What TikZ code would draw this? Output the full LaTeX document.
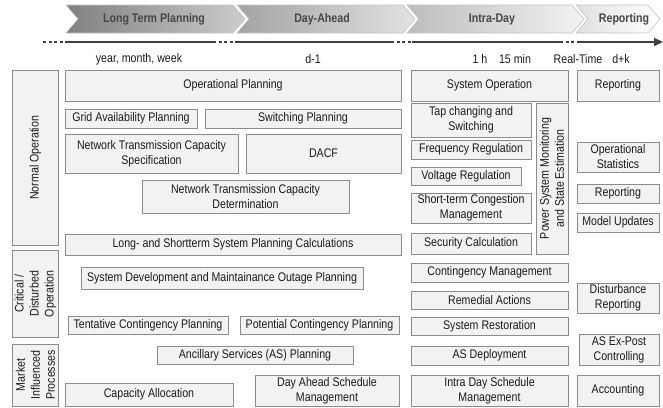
\documentclass[tikz,border=0pt]{standalone}
\usepackage{fontspec}
\setmainfont{Liberation Sans}[FakeStretch=0.85]
\usetikzlibrary{arrows.meta}
\definecolor{boxfill}{HTML}{F2F2F2}
\definecolor{boxline}{HTML}{8C8C8C}
\definecolor{txt}{HTML}{1A1A1A}
\definecolor{chevtxt}{HTML}{474747}
\definecolor{timeline}{HTML}{3F3F3F}
\definecolor{chevline}{HTML}{C4C4C4}
\definecolor{chAa}{HTML}{808080}\definecolor{chAb}{HTML}{CCCCCC}
\definecolor{chBa}{HTML}{A3A3A3}\definecolor{chBb}{HTML}{E2E2E2}
\definecolor{chCa}{HTML}{BDBDBD}\definecolor{chCb}{HTML}{F2F2F2}
\definecolor{chDa}{HTML}{E0E0E0}\definecolor{chDb}{HTML}{FFFFFF}
\newcommand\pbox[6]{\node[bx, minimum width={(#4)-(#2)}, minimum height={(#5)-(#3)}] (#1) at ({((#2)+(#4))/2},{((#3)+(#5))/2}) {#6};}
\newcommand\rbox[6]{\node[bx, rotate=90, minimum width={(#5)-(#3)}, minimum height={(#4)-(#2)}] (#1) at ({((#2)+(#4))/2},{((#3)+(#5))/2}) {#6};}
\begin{document}
\begin{tikzpicture}[x=1pt, y=-1pt,
  bx/.style={draw=boxline, fill=boxfill, line width=0.7pt, text=txt, align=center, inner sep=1pt, font=\fontsize{12.5}{15}\selectfont},
  chev/.style={draw=chevline, line width=0.6pt},
  chevlbl/.style={text=chevtxt, inner sep=0pt, font=\fontsize{12.5}{15}\selectfont\bfseries},
  tlbl/.style={text=txt, inner sep=0pt, font=\fontsize{12.5}{15}\selectfont},
  tl/.style={draw=timeline, line width=1.7pt},
  tldot/.style={draw=timeline, line width=1.7pt, dash pattern=on 3pt off 2.5pt}]
\useasboundingbox (0,0) rectangle (663,407);
% chevrons
\draw[chev, left color=chAa, right color=chAb] (66,5) -- (233,5) -- (245,19) -- (233,33) -- (66,33) -- (78,19) -- cycle;
\draw[chev, left color=chBa, right color=chBb] (237,5) -- (403,5) -- (415,19) -- (403,33) -- (237,33) -- (249,19) -- cycle;
\draw[chev, left color=chCa, right color=chCb] (407,5) -- (572,5) -- (584,19) -- (572,33) -- (407,33) -- (419,19) -- cycle;
\draw[chev, left color=chDa, right color=chDb] (576,5) -- (648,5) -- (660,19) -- (648,33) -- (576,33) -- (588,19) -- cycle;
\node[chevlbl] (cA) at (154,19) {Long Term Planning};
\node[chevlbl] (cB) at (322,19) {Day-Ahead};
\node[chevlbl] (cC) at (492,19) {Intra-Day};
\node[chevlbl] (cD) at (624,19) {Reporting};
% timeline
\coordinate (a0) at (43,42); \coordinate (a1) at (67,42);
\coordinate (a2) at (213,42); \coordinate (a3) at (237,42);
\coordinate (a4) at (391,42); \coordinate (a5) at (412,42);
\coordinate (a6) at (560,42); \coordinate (a7) at (577,42);
\coordinate (a8) at (663,42);
\draw[tldot] (a0) -- (a1);
\draw[tl] (a1) -- (a2);
\draw[tldot] (a2) -- (a3);
\draw[tl] (a3) -- (a4);
\draw[tldot] (a4) -- (a5);
\draw[tl] (a5) -- (a6);
\draw[tldot] (a6) -- (a7);
\draw[tl, -{Triangle[length=9pt,width=8pt]}] (a7) -- (a8);
% time labels
\node[tlbl] (t1) at (139,59) {year, month, week};
\node[tlbl] (t2) at (313,59) {d-1};
\node[tlbl] (t3) at (480,59) {1 h};
\node[tlbl] (t4) at (515,59) {15 min};
\node[tlbl] (t5) at (578,59) {Real-Time};
\node[tlbl] (t6) at (621,59) {d+k};
% left labels
\rbox{normal}{12.5}{70}{58.5}{245.5}{Normal Operation}
\rbox{critical}{12.5}{250.5}{58.5}{337}{\fontsize{12.5}{14}\selectfont Critical /\\Disturbed\\Operation}
\rbox{market}{12.5}{344}{58.5}{406}{\fontsize{12.5}{14}\selectfont Market\\Influenced\\Processes}
% planning column
\pbox{opplan}{65}{70}{401}{101}{Operational Planning}
\pbox{grid}{65}{109}{197}{128}{Grid Availability Planning}
\pbox{switch}{205}{109}{401}{128}{Switching Planning}
\pbox{ntcs}{65}{134}{238}{173}{Network Transmission Capacity\\Specification}
\pbox{dacf}{246}{134}{401}{173}{DACF}
\pbox{ntcd}{142}{180}{349}{213}{Network Transmission Capacity\\Determination}
\pbox{longshort}{65}{234}{401}{255}{Long- and Shortterm System Planning Calculations}
\pbox{sysdev}{81}{267}{363}{289}{System Development and Maintainance Outage Planning}
\pbox{tentative}{68}{316}{228}{334}{Tentative Contingency Planning}
\pbox{potential}{240}{316}{399}{334}{Potential Contingency Planning}
\pbox{ancillary}{157}{346}{353}{364}{Ancillary Services (AS) Planning}
\pbox{capacity}{65}{383}{233}{406}{Capacity Allocation}
\pbox{dayahead}{255}{375}{399}{406}{Day Ahead Schedule\\Management}
% operation column
\pbox{sysop}{411}{70}{568}{101}{System Operation}
\pbox{tap}{411}{103}{531}{137}{Tap changing and\\Switching}
\rbox{power}{536}{103}{568}{254}{Power System Monitoring\\and State Estimation}
\pbox{freq}{411}{140}{531}{159}{Frequency Regulation}
\pbox{volt}{411}{167}{521}{185}{Voltage Regulation}
\pbox{short}{411}{193}{531}{223}{Short-term Congestion\\Management}
\pbox{security}{411}{233}{531}{254}{Security Calculation}
\pbox{contingency}{411}{263}{568}{282}{Contingency Management}
\pbox{remedial}{411}{291}{568}{309}{Remedial Actions}
\pbox{restoration}{411}{317}{568}{335}{System Restoration}
\pbox{asdeploy}{411}{346}{568}{365}{AS Deployment}
\pbox{intraday}{411}{375}{568}{406}{Intra Day Schedule\\Management}
% reporting column
\pbox{rep1}{577}{70}{659}{101}{Reporting}
\pbox{opstat}{577}{142}{659}{172}{Operational\\Statistics}
\pbox{rep2}{577}{184}{659}{203}{Reporting}
\pbox{model}{577}{213}{659}{232}{Model Updates}
\pbox{disturb}{577}{283}{659}{313}{Disturbance\\Reporting}
\pbox{expost}{579}{334}{659}{365}{AS Ex-Post\\Controlling}
\pbox{accounting}{577}{375}{659}{406}{Accounting}
\end{tikzpicture}
\end{document}
